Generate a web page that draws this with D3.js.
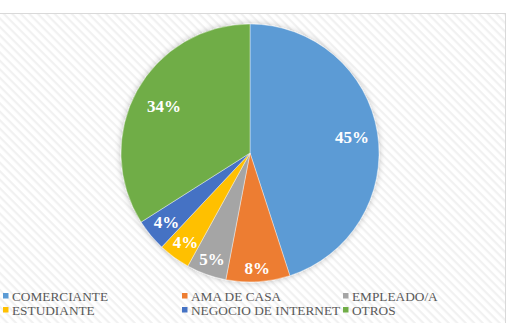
<!DOCTYPE html>
<html><head><meta charset="utf-8">
<script src="https://cdn.jsdelivr.net/npm/d3@7"></script>
<style>html,body{margin:0;padding:0;background:#fff;}svg{display:block;}</style>
</head><body>
<svg id="c" width="515" height="323"></svg>
<script>
const categories = ["COMERCIANTE","AMA DE CASA","EMPLEADO/A","ESTUDIANTE","NEGOCIO DE INTERNET","OTROS"];
const values = [45, 8, 5, 4, 4, 34];
const labels = ["45%","8%","5%","4%","4%","34%"];
const colors = ["#5B9BD5","#ED7D31","#A5A5A5","#FFC000","#4472C4","#70AD47"];

const svg = d3.select("#c");
const defs = svg.append("defs");
const pat = defs.append("pattern").attr("id","hatch").attr("patternUnits","userSpaceOnUse")
  .attr("width",6).attr("height",6).attr("patternTransform","rotate(45)");
pat.append("rect").attr("width",6).attr("height",6).attr("fill","#ffffff");
pat.append("rect").attr("width",6).attr("height",2.2).attr("fill","#f1f1f1");
const f = defs.append("filter").attr("id","sh").attr("x","-20%").attr("y","-20%").attr("width","140%").attr("height","140%");
f.append("feGaussianBlur").attr("in","SourceAlpha").attr("stdDeviation",3).attr("result","b");
f.append("feOffset").attr("in","b").attr("dx",0).attr("dy",0).attr("result","o");
f.append("feComponentTransfer").attr("in","o").attr("result","o2").append("feFuncA").attr("type","linear").attr("slope",0.25);
const m = f.append("feMerge"); m.append("feMergeNode").attr("in","o2"); m.append("feMergeNode").attr("in","SourceGraphic");

// chart area frame
svg.append("rect").attr("x",-1).attr("y",13.5).attr("width",506.5).attr("height",312)
  .attr("fill","url(#hatch)").attr("stroke","#d9d9d9").attr("stroke-width",1);

const cx = 250, cy = 153, r = 129;
const pie = d3.pie().sort(null).value(d => d)(values);
const arc = d3.arc().innerRadius(0).outerRadius(r);
const g = svg.append("g").attr("transform",`translate(${cx},${cy})`);
g.append("g").attr("filter","url(#sh)").selectAll("path").data(pie).join("path")
  .attr("d",arc).attr("fill",(d,i)=>colors[i]).attr("stroke","#ffffff").attr("stroke-width",0.4);

const labelR = [0.8,0.89,0.87,0.85,0.84,0.76];
g.selectAll("text").data(pie).join("text")
  .attr("transform",(d,i)=>{
    const a = (d.startAngle+d.endAngle)/2;
    const rr = r*labelR[i];
    return `translate(${Math.sin(a)*rr},${-Math.cos(a)*rr})`;
  })
  .attr("text-anchor","middle").attr("dy","0.35em")
  .style("font-family","\"Liberation Serif\", \"Times New Roman\", serif").style("font-weight","bold")
  .style("font-size","17px").attr("fill","#ffffff")
  .text((d,i)=>labels[i]);

// legend
const colX = [3, 182, 343];
const rowY = [296, 310];
const lg = svg.append("g");
categories.forEach((c,i)=>{
  const x = colX[i%3], y = rowY[Math.floor(i/3)];
  lg.append("rect").attr("x",x).attr("y",y-3).attr("width",5.5).attr("height",5.5).attr("fill",colors[i]);
  lg.append("text").attr("x",x+9).attr("y",y).attr("dy","0.35em")
    .style("font-family","\"Liberation Serif\", \"Times New Roman\", serif").style("font-size","13.3px")
    .attr("fill","#595959").text(c);
});
</script>
</body></html>
